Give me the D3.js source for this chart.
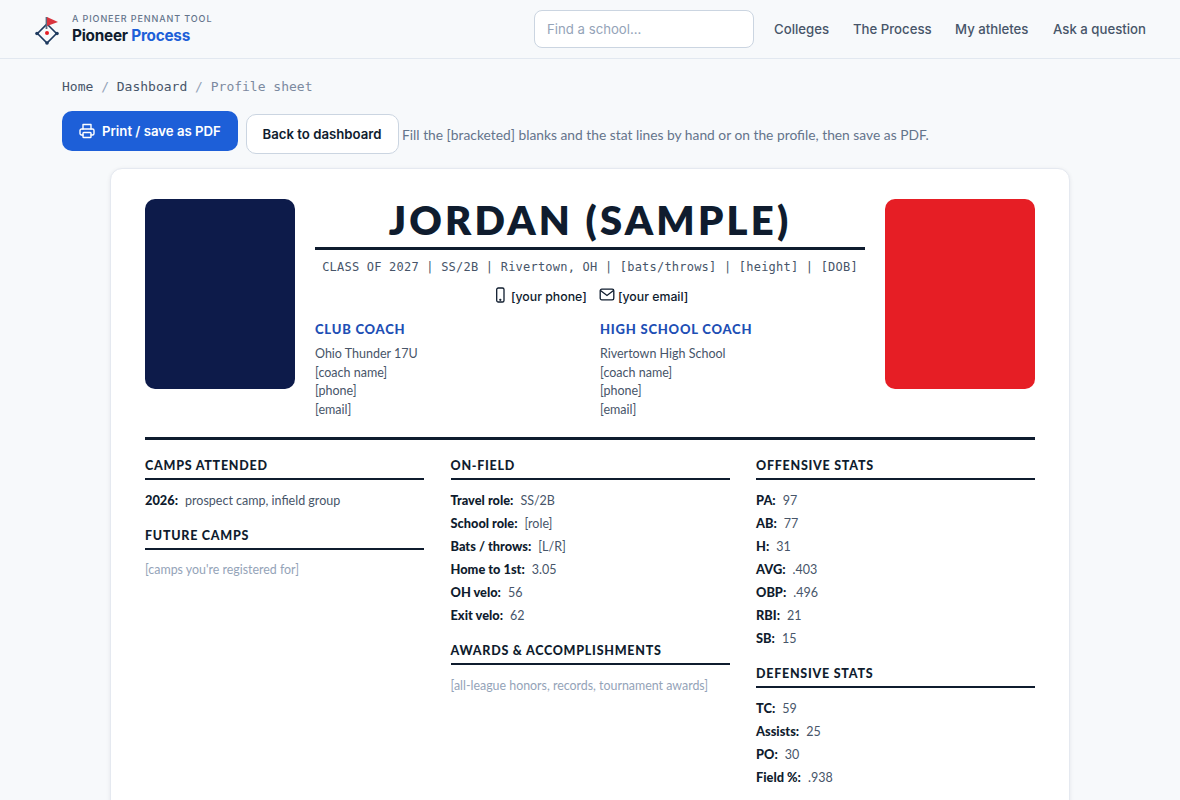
<!DOCTYPE html>
<html>
<head>
<meta charset="utf-8">
<title>Profile sheet</title>
<script src="https://cdn.jsdelivr.net/npm/d3@7"></script>
<style>
  html, body { margin: 0; padding: 0; width: 1180px; height: 800px; overflow: hidden; background: #f7f9fb; }
  body { font-family: Lato, sans-serif; color: #0f1c2e; position: relative; }
  .abs { position: absolute; white-space: nowrap; }
  .ui { font-family: Inter, sans-serif; }
  .mono { font-family: "DejaVu Sans Mono", monospace; }
  .col { position: absolute; top: 456.4px; }
  .sec-title { font-size: 12.5px; font-weight: 900; letter-spacing: 0.06em; line-height: 20.6px; padding-bottom: 1.4px; border-bottom: 2px solid #0f1c2e; margin-bottom: 8.5px; }
  .sec-title.next { margin-top: 13.9px; }
  .row { height: 23.1px; line-height: 23.1px; font-size: 12.5px; color: #475569; white-space: nowrap; }
  .row b { color: #0f1c2e; font-weight: 900; font-size: 12.8px; margin-right: 7px; }
  .hint { height: 23.1px; line-height: 23.1px; font-size: 12.4px; color: #94a3b8; white-space: nowrap; }
</style>
</head>
<body>
<script>
const navLinks = ["Colleges", "The Process", "My athletes", "Ask a question"];
const navLeft = [774, 853, 955, 1053];
const crumbs = ["Home", "Dashboard", "Profile sheet"];
const subline = "CLASS OF 2027 | SS/2B | Rivertown, OH | [bats/throws] | [height] | [DOB]";
const clubCoach = ["Ohio Thunder 17U", "[coach name]", "[phone]", "[email]"];
const schoolCoach = ["Rivertown High School", "[coach name]", "[phone]", "[email]"];
const onField = [["Travel role:", "SS/2B"], ["School role:", "[role]"], ["Bats / throws:", "[L/R]"], ["Home to 1st:", "3.05"], ["OH velo:", "56"], ["Exit velo:", "62"]];
const offensive = [["PA:", "97"], ["AB:", "77"], ["H:", "31"], ["AVG:", ".403"], ["OBP:", ".496"], ["RBI:", "21"], ["SB:", "15"]];
const defensive = [["TC:", "59"], ["Assists:", "25"], ["PO:", "30"], ["Field %:", ".938"]];
const camps = [["2026:", "prospect camp, infield group"]];

const body = d3.select("body");

function put(x, y, text, style, cls) {
  // y is the vertical centre of the line
  const el = body.append("div").attr("class", "abs " + (cls || "")).text(text)
    .style("left", x + "px").style("top", y + "px").style("transform", "translateY(-50%)");
  Object.entries(style || {}).forEach(([k, v]) => el.style(k, v));
  return el;
}
function box(x, y, w, h, style) {
  const el = body.append("div").style("position", "absolute").style("box-sizing", "border-box")
    .style("left", x + "px").style("top", y + "px").style("width", w + "px").style("height", h + "px");
  Object.entries(style || {}).forEach(([k, v]) => el.style(k, v));
  return el;
}
function icon(x, y, w, h, stroke, draw) {
  const svg = body.append("svg").style("position", "absolute").style("left", x + "px").style("top", y + "px")
    .attr("width", w).attr("height", h).attr("viewBox", [0, 0, w, h])
    .attr("fill", "none").attr("stroke", stroke);
  draw(svg);
}

// top bar
box(0, 0, 1180, 59, { "border-bottom": "1px solid #e2e8f0", background: "#f7f9fb" });
icon(30, 12, 34, 36, "#1e3a5f", (svg) => {
  svg.append("path").attr("d", "M17 12L26.5 21.5L17 31L7.5 21.5Z").attr("stroke-width", 1.6);
  svg.append("line").attr("x1", 16.5).attr("y1", 5).attr("x2", 16.5).attr("y2", 17).attr("stroke", "#5b6b80").attr("stroke-width", 1.8);
  svg.append("path").attr("d", "M17 5L28 10L17 14Z").attr("fill", "#d9343e").attr("stroke", "none");
  svg.append("circle").attr("cx", 17).attr("cy", 21).attr("r", 2).attr("fill", "#e61e25").attr("stroke", "none");
  [[7, 21.5], [27, 21.5], [17, 31]].forEach(([cx, cy]) =>
    svg.append("circle").attr("cx", cx).attr("cy", cy).attr("r", 1.8).attr("fill", "#1e3a5f").attr("stroke", "none"));
});
put(72, 18, "A PIONEER PENNANT TOOL", { "font-size": "9px", "letter-spacing": "0.1em", color: "#64748b", "font-weight": 500 }, "ui");
const brand = put(72, 35, "Pioneer ", { "font-size": "15.3px", "font-weight": 700, "letter-spacing": "-0.015em", color: "#0f1c2e" }, "ui");
brand.append("span").style("color", "#1d5fd8").text("Process");

box(534, 10, 220, 38, { background: "#fff", border: "1px solid #cbd5e1", "border-radius": "8px" });
put(547, 29, "Find a school...", { "font-size": "13.2px", color: "#94a3b8" }, "ui");
navLinks.forEach((d, i) => put(navLeft[i], 29, d, { "font-size": "13.2px", color: "#475569", "font-weight": 500 }, "ui"));

// breadcrumb
const crumb = put(62, 86, "", { "font-size": "13px", color: "#94a3b8" }, "mono");
crumbs.forEach((d, i) => {
  crumb.append("span").style("color", i < crumbs.length - 1 ? "#475569" : "#7c8aa0").text(d);
  if (i < crumbs.length - 1) crumb.append("span").style("color", "#94a3b8").text(" / ");
});

// buttons
box(62, 111, 176, 40, { background: "#1d5fd8", "border-radius": "10px" });
icon(79, 123, 16, 16, "#fff", (svg) => {
  svg.attr("stroke-width", 1.4).attr("stroke-linecap", "round").attr("stroke-linejoin", "round");
  svg.append("path").attr("d", "M4 6V1.5H12V6");
  svg.append("path").attr("d", "M4 12H2.5A1.5 1.5 0 0 1 1 10.5V7.5A1.5 1.5 0 0 1 2.5 6H13.5A1.5 1.5 0 0 1 15 7.5V10.5A1.5 1.5 0 0 1 13.5 12H12");
  svg.append("rect").attr("x", 4).attr("y", 9.5).attr("width", 8).attr("height", 5).attr("rx", 0.8);
});
put(102, 131, "Print / save as PDF", { "font-size": "13.2px", "font-weight": 600, color: "#fff" }, "ui");
box(246, 114, 153, 40, { background: "#fff", border: "1px solid #cbd5e1", "border-radius": "10px" });
put(262.5, 134, "Back to dashboard", { "font-size": "13.2px", "font-weight": 600, color: "#0f1c2e" }, "ui");
put(402, 134, "Fill the [bracketed] blanks and the stat lines by hand or on the profile, then save as PDF.", { "font-size": "13.8px", color: "#64748b" });

// sheet
box(110, 168, 960, 700, { background: "#fff", border: "1px solid #e5e9f0", "border-radius": "12px", "box-shadow": "0 1px 4px rgba(15,28,46,0.08)" });
box(145, 199, 150, 190, { background: "#0d1b4a", "border-radius": "10px" });
box(885, 199, 150, 190, { background: "#e61e25", "border-radius": "10px" });

put(590, 220, "JORDAN (SAMPLE)", { "font-size": "40px", "font-weight": 800, "letter-spacing": "0.08em", color: "#0f1c2e" }).style("transform", "translate(-50%,-50%)");
box(315, 247, 550, 3, { background: "#0f1c2e" });
put(590, 267, subline, { "font-size": "12px", "letter-spacing": "0.018em", color: "#475569" }, "mono").style("transform", "translate(-50%,-50%)");

icon(495, 287, 11, 16, "#0f1c2e", (svg) => {
  svg.attr("stroke-width", 1.3);
  svg.append("rect").attr("x", 1.7).attr("y", 1).attr("width", 7.3).attr("height", 14).attr("rx", 1.6);
  svg.append("circle").attr("cx", 5.3).attr("cy", 12.8).attr("r", 0.5);
});
put(511, 296, "[your phone]", { "font-size": "12.3px", color: "#0f1c2e", "font-weight": 500 }, "ui");
icon(599, 288, 16, 13, "#0f1c2e", (svg) => {
  svg.attr("stroke-width", 1.3);
  svg.append("rect").attr("x", 1.2).attr("y", 1.2).attr("width", 13.6).attr("height", 10.6).attr("rx", 1.6);
  svg.append("path").attr("d", "M1.5 2.5L8 7.5L14.5 2.5");
});
put(618, 296, "[your email]", { "font-size": "12.3px", color: "#0f1c2e", "font-weight": 500 }, "ui");

// coach blocks
[[315, "CLUB COACH", clubCoach], [600, "HIGH SCHOOL COACH", schoolCoach]].forEach(([x, title, lines]) => {
  put(x, 329, title, { "font-size": "13px", "font-weight": 900, "letter-spacing": "0.06em", color: "#1e4fb5" });
  const rowY = d3.scalePoint().domain(d3.range(lines.length)).range([353, 409]);
  lines.forEach((d, i) => put(x, rowY(i), d, { "font-size": "12.5px", color: "#475569" }));
});

box(145, 437, 890, 3, { background: "#0f1c2e" });

// stat columns
function column(x, width, sections) {
  const col = body.append("div").attr("class", "col").style("left", x + "px").style("width", width + "px");
  sections.forEach((s, i) => {
    col.append("div").attr("class", "sec-title" + (i ? " next" : "")).text(s.title);
    if (s.hint) col.append("div").attr("class", "hint").text(s.hint);
    (s.rows || []).forEach(([k, v]) => {
      const r = col.append("div").attr("class", "row");
      r.append("b").text(k);
      r.append("span").text(v);
    });
  });
}
column(145, 279, [
  { title: "CAMPS ATTENDED", rows: camps },
  { title: "FUTURE CAMPS", hint: "[camps you're registered for]" }
]);
column(450.5, 279.5, [
  { title: "ON-FIELD", rows: onField },
  { title: "AWARDS & ACCOMPLISHMENTS", hint: "[all-league honors, records, tournament awards]" }
]);
column(756, 279, [
  { title: "OFFENSIVE STATS", rows: offensive },
  { title: "DEFENSIVE STATS", rows: defensive }
]);
</script>
</body>
</html>
